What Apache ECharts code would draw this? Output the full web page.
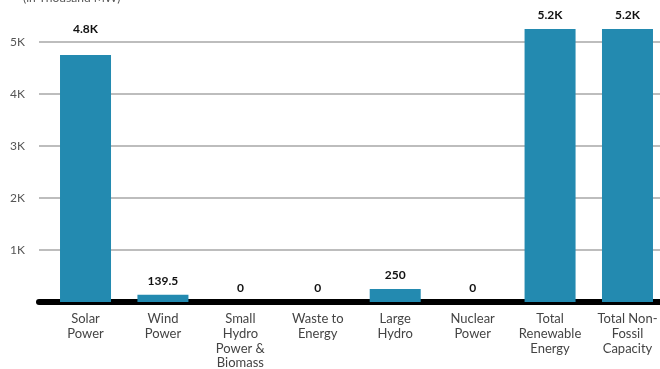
<!DOCTYPE html>
<html>
<head>
<meta charset="utf-8">
<script src="https://cdn.jsdelivr.net/npm/echarts@6/dist/echarts.min.js"></script>
<style>
  html, body { margin: 0; padding: 0; background: #fff; }
  #chart { width: 660px; height: 369px; }
</style>
</head>
<body>
<div id="chart"></div>
<script>
// Installed capacity by source (in thousand MW)
const categories = [
  'Solar\nPower',
  'Wind\nPower',
  'Small\nHydro\nPower &\nBiomass',
  'Waste to\nEnergy',
  'Large\nHydro',
  'Nuclear\nPower',
  'Total\nRenewable\nEnergy',
  'Total Non-\nFossil\nCapacity'
];
const capacity = [4750, 139.5, 0, 0, 250, 0, 5249, 5249];
const yTicks = [0, 1000, 2000, 3000, 4000, 5000, 6000];

const FONT = 'Lato, "Open Sans", sans-serif';
const yMin = yTicks[0];
const yMax = yTicks[yTicks.length - 1];
const yStep = yTicks[1] - yTicks[0];

function fmtValue(v) {
  return v >= 1000 ? (v / 1000).toFixed(1) + 'K' : String(v);
}

const chart = echarts.init(document.getElementById('chart'), null, { renderer: 'canvas' });

chart.setOption({
  animation: false,
  textStyle: { fontFamily: FONT },
  title: {
    text: '(in Thousand MW)',
    left: 18,
    top: -13,
    textStyle: { fontFamily: FONT, fontSize: 12, fontWeight: 'normal', color: '#555' }
  },
  grid: [
    // background: gridlines, y labels and baseline
    { left: 39, right: 0, top: -10, height: 312, outerBoundsMode: 'none', containLabel: false },
    // bars
    { left: 46.8, right: -6.2, top: -10, height: 312, outerBoundsMode: 'none', containLabel: false }
  ],
  xAxis: [
    {
      gridIndex: 0, type: 'value', min: 0, max: 1,
      axisLine: { show: true, lineStyle: { color: '#000', width: 6 } },
      axisTick: { show: false }, axisLabel: { show: false }, splitLine: { show: false }
    },
    {
      gridIndex: 1, type: 'category', data: categories,
      axisLine: { show: false }, axisTick: { show: false },
      axisLabel: {
        interval: 0, margin: 10, color: '#444', fontSize: 13, lineHeight: 14.6,
        fontFamily: FONT
      }
    }
  ],
  yAxis: [
    {
      gridIndex: 0, type: 'value', min: yMin, max: yMax, interval: yStep,
      axisLine: { show: false }, axisTick: { show: false },
      axisLabel: {
        margin: 29, align: 'left', color: '#555', fontSize: 12, fontFamily: FONT,
        formatter: v => (v === 0 ? '' : (v / 1000) + 'K')
      },
      splitLine: { lineStyle: { color: '#bdbdbd', width: 2 } }
    },
    {
      gridIndex: 1, type: 'value', min: yMin, max: yMax, interval: yStep,
      show: false, splitLine: { show: false }
    }
  ],
  series: [
    {
      type: 'bar',
      xAxisIndex: 1, yAxisIndex: 1,
      barWidth: 51,
      z: 1,
      itemStyle: { color: '#238ab0' },
      label: {
        show: true, position: 'top', distance: 8,
        color: '#111', fontWeight: 'bold', fontSize: 12, fontFamily: FONT,
        formatter: p => fmtValue(p.value)
      },
      data: capacity.map((v, i) => (i === 0 ? { value: v, label: { distance: 20 } } : v))
    }
  ]
});
</script>
</body>
</html>
